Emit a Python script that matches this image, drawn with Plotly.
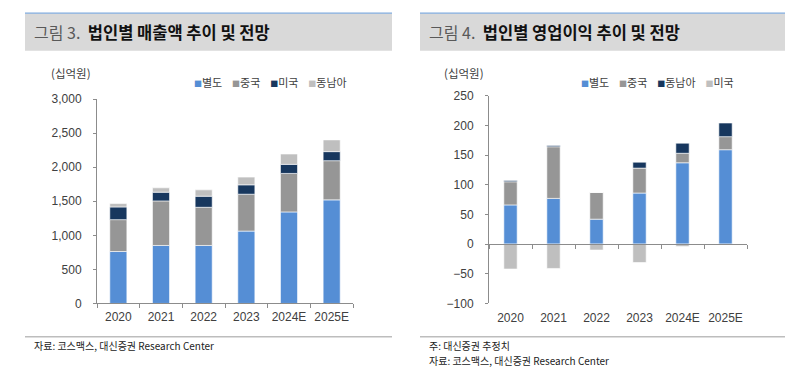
import plotly.graph_objects as go

# ---------------- data ----------------
years = ["2020", "2021", "2022", "2023", "2024E", "2025E"]

# 그림 3: 법인별 매출액 (십억원)
sales_names = ["별도", "중국", "미국", "동남아"]
sales_hq = [762, 851, 851, 1062, 1343, 1520]
sales_china = [468, 654, 560, 541, 565, 575]
sales_us = [186, 128, 163, 138, 133, 133]
sales_sea = [50, 64, 93, 113, 152, 172]

# 그림 4: 법인별 영업이익 (십억원)
op_names = ["별도", "중국", "동남아", "미국"]
op_hq = [66, 77, 42, 86, 137, 159]
op_china = [39, 87, 45, 42, 16, 22]
op_sea = [2, 2, 0, 10, 17, 23]
op_us = [-42, -41, -10, -31, -4, -1]

sales_ticks = [0, 500, 1000, 1500, 2000, 2500, 3000]
op_ticks = [-100, -50, 0, 50, 100, 150, 200, 250]

# ---------------- style ----------------
W, H = 793, 372
BLUE, GRAY, NAVY, LIGHT = "#558ED5", "#969696", "#17375E", "#BFBFBF"
AXIS = "#8C8C8C"
TXT = "#404040"
NUM_FONT = "Liberation Sans, Arial, Noto Sans CJK KR"
KR_FONT = "Noto Sans CJK KR, Liberation Sans"

# vertical calibration of the captured page (observed scale / offset)
V_SCALE, V_OFF = 0.957, 8.5


def fx(px):
    return px / W


def fy(py):
    return 1 - ((py - V_OFF) / V_SCALE) / H


sales_colors = [BLUE, GRAY, NAVY, LIGHT]
op_colors = [BLUE, GRAY, NAVY, LIGHT]

fig = go.Figure()

for name, vals, col in zip(sales_names, [sales_hq, sales_china, sales_us, sales_sea], sales_colors):
    fig.add_trace(go.Bar(x=years, y=vals, name=name, width=0.4,
                         marker=dict(color=col, line=dict(color="white", width=0.6)),
                         xaxis="x", yaxis="y", showlegend=False))

for name, vals, col in zip(op_names[:3], [op_hq, op_china, op_sea], op_colors[:3]):
    fig.add_trace(go.Bar(x=years, y=vals, name=name, width=0.31,
                         marker=dict(color=col, line=dict(color="white", width=0.6)),
                         xaxis="x2", yaxis="y2", showlegend=False))
# 미국 (negative) drawn against the zero-line axis overlay
fig.add_trace(go.Bar(x=years, y=op_us, name=op_names[3], width=0.31,
                     marker=dict(color=op_colors[3], line=dict(color="white", width=0.6)),
                     xaxis="x4", yaxis="y2", showlegend=False))

L_dom_x = [fx(97), fx(353)]
R_dom_x = [fx(489), fx(747)]
L_dom_y = [fy(303.3), fy(100)]
R_dom_y = [fy(303.3), fy(96.7)]

op_range = [op_ticks[0], op_ticks[-1]]
zero_pos = R_dom_y[0] + (0 - op_range[0]) / (op_range[1] - op_range[0]) * (R_dom_y[1] - R_dom_y[0])

tickfont = dict(family=NUM_FONT, size=12, color=TXT)

fig.update_layout(
    width=W, height=H,
    margin=dict(l=0, r=0, t=0, b=0),
    paper_bgcolor="white", plot_bgcolor="white",
    barmode="relative",
    showlegend=False,
    xaxis=dict(domain=L_dom_x, anchor="y", type="category", showline=True, linecolor=AXIS,
               linewidth=1, ticks="outside", tickson="boundaries", ticklen=4, tickcolor=AXIS,
               tickfont=tickfont, showgrid=False, ticklabelstandoff=2, tickangle=0),
    yaxis=dict(domain=L_dom_y, anchor="x", range=[sales_ticks[0], sales_ticks[-1]],
               tickvals=sales_ticks, tickformat=",", showline=True, linecolor=AXIS, linewidth=1,
               ticks="outside", ticklen=3, tickcolor=AXIS, tickfont=tickfont,
               showgrid=False, zeroline=False, ticklabelstandoff=9),
    xaxis2=dict(domain=R_dom_x, anchor="y2", type="category", showline=False, ticks="",
                tickfont=tickfont, showgrid=False, ticklabelstandoff=6, tickangle=0),
    xaxis4=dict(domain=R_dom_x, overlaying="x2", anchor="free", position=zero_pos,
                type="category", showline=True, linecolor=AXIS, linewidth=1,
                ticks="outside", tickson="boundaries", ticklen=4, tickcolor=AXIS,
                showticklabels=False, showgrid=False, categoryorder="array",
                categoryarray=years),
    yaxis2=dict(domain=R_dom_y, anchor="x2", range=op_range, tickvals=op_ticks,
                showline=True, linecolor=AXIS, linewidth=1, ticks="outside", ticklen=3,
                tickcolor=AXIS, tickfont=tickfont, showgrid=False, zeroline=False,
                ticklabelstandoff=9),
)

shapes = []
annotations = []

panels = [
    dict(x0=25, x1=392, fig="그림 3.", title="법인별 매출액 추이 및 전망",
         unit_x=49, legend_x=192, names=sales_names, colors=sales_colors,
         notes=["자료: 코스맥스, 대신증권 Research Center"]),
    dict(x0=420, x1=785, fig="그림 4.", title="법인별 영업이익 추이 및 전망",
         unit_x=442, legend_x=579, names=op_names, colors=op_colors,
         notes=["주: 대신증권 추정치", "자료: 코스맥스, 대신증권 Research Center"]),
]

for p in panels:
    # header box
    shapes.append(dict(type="rect", xref="paper", yref="paper", x0=fx(p["x0"]), x1=fx(p["x1"]),
                       y0=fy(52), y1=fy(15), fillcolor="#D9D9D9", line=dict(width=0), layer="below"))
    shapes.append(dict(type="line", xref="paper", yref="paper", x0=fx(p["x0"]), x1=fx(p["x1"]),
                       y0=fy(14.5), y1=fy(14.5), line=dict(color="#7FAADD", width=1.2)))
    # bottom separator
    shapes.append(dict(type="line", xref="paper", yref="paper", x0=fx(p["x0"]), x1=fx(p["x1"]),
                       y0=fy(336.5), y1=fy(336.5), line=dict(color="#BDBDBD", width=1.5)))
    # title
    annotations.append(dict(
        xref="paper", yref="paper", x=fx(p["x0"] + 7), y=fy(33.5), xanchor="left", yanchor="middle",
        showarrow=False, font=dict(family=KR_FONT, size=16.5, color="#111111"),
        text=f"<span style='color:#595959;font-size:16px'>{p['fig']}</span>  <b>{p['title']}</b>"))
    # unit
    annotations.append(dict(
        xref="paper", yref="paper", x=fx(p["unit_x"]), y=fy(74), xanchor="left", yanchor="middle",
        showarrow=False, font=dict(family=KR_FONT, size=11.5, color=TXT), text="(십억원)"))
    # legend
    parts = [f"<span style='font-size:8px;color:{c}'>■</span>{n}" for n, c in zip(p["names"], p["colors"])]
    annotations.append(dict(
        xref="paper", yref="paper", x=fx(p["legend_x"]), y=fy(83), xanchor="left", yanchor="middle",
        showarrow=False, font=dict(family=KR_FONT, size=11, color=TXT), text="    ".join(parts)))
    # notes
    for i, note in enumerate(p["notes"]):
        annotations.append(dict(
            xref="paper", yref="paper", x=fx(p["x0"] + 7), y=fy(345 + 15 * i), xanchor="left",
            yanchor="middle", showarrow=False,
            font=dict(family=KR_FONT, size=10, color="#222222"), text=note))

fig.update_layout(shapes=shapes, annotations=annotations)

PIN = ("document.documentElement.style.margin='0';document.documentElement.style.overflow='hidden';"
       "document.body.style.margin='0';document.body.style.overflow='hidden';"
       "var g=document.getElementsByClassName('plotly-graph-div')[0];"
       "g.style.position='fixed';g.style.left='0px';g.style.top='0px';")

fig.write_html("out.html", config={"displayModeBar": False}, post_script=PIN)
